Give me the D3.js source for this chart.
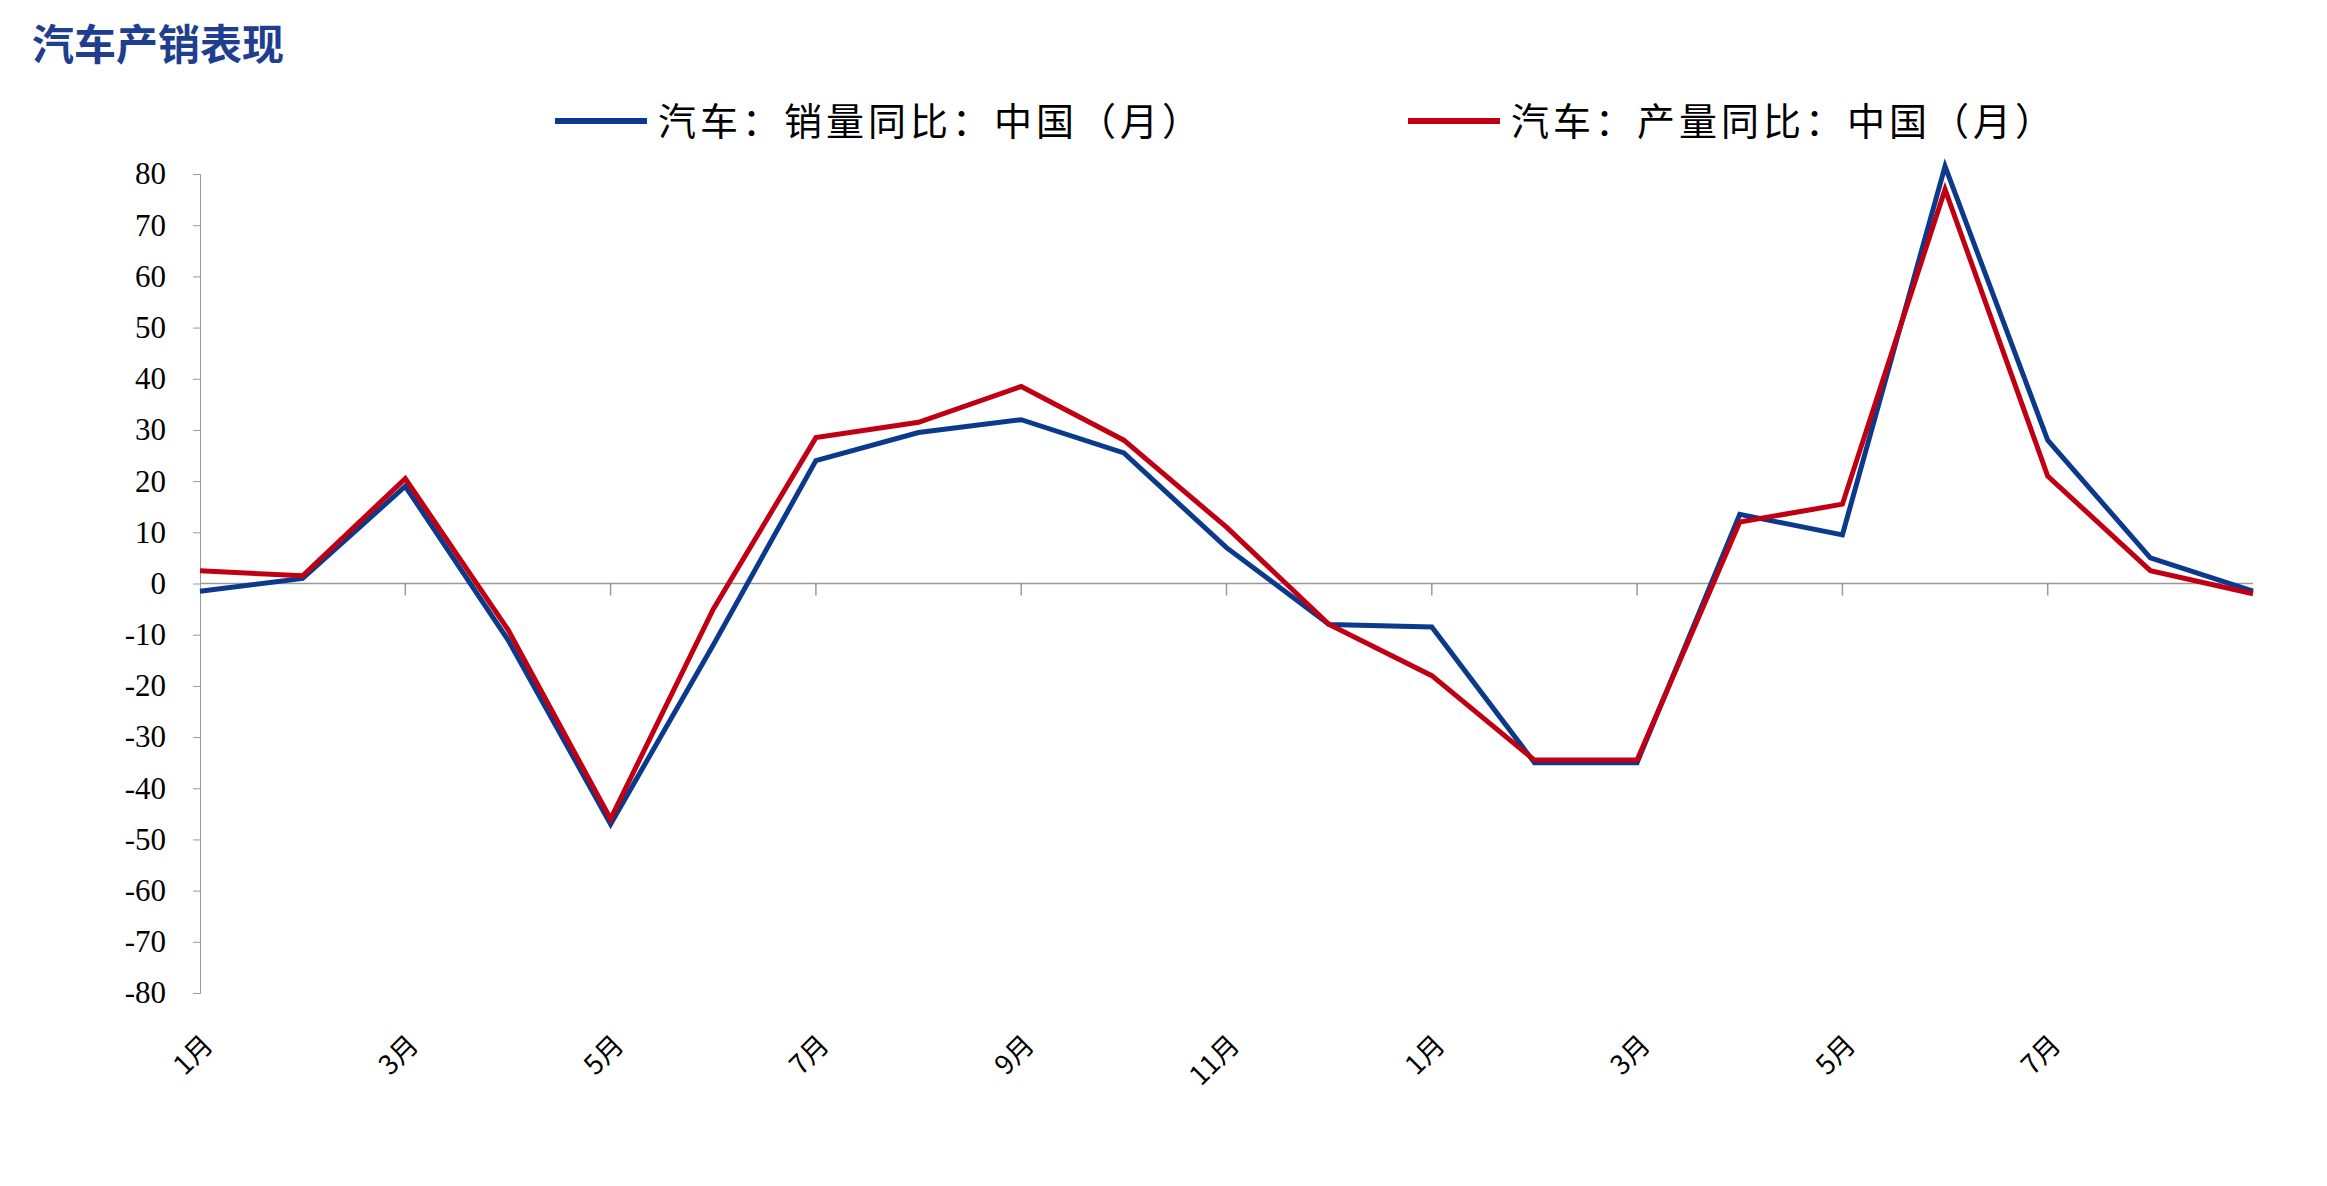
<!DOCTYPE html>
<head>
<meta charset="utf-8">
<title>汽车产销表现</title>
<style>
body { margin: 0; background: #fff; }
.ytick text { font-family: "Liberation Serif", serif; font-size: 31px; }
.xlab { font-family: "Noto Sans CJK SC", sans-serif; font-size: 27px; }
</style>
<script src="https://d3js.org/d3.v7.min.js"></script>
</head>
<body>
<script>
var months = ["1月","2月","3月","4月","5月","6月","7月","8月","9月","10月","11月","12月",
              "1月","2月","3月","4月","5月","6月","7月","8月","9月"];
var sales = [-1.5, 1, 19, -11, -47, -12, 24, 29.5, 32, 25.5, 7, -8, -8.5, -35, -35, 13.5, 9.5, 81.5, 28, 5, -1.5];
var production = [2.5, 1.5, 20.5, -9, -46, -5, 28.5, 31.5, 38.5, 28, 11, -8, -18, -34.5, -34.5, 12, 15.5, 77, 21, 2.5, -2];
var yTicks = d3.range(-80, 81, 10);

var W = 2327, H = 1186;
var svg = d3.select("body").append("svg").attr("width", W).attr("height", H);

var x = d3.scaleLinear().domain([0, months.length - 1]).range([200, 2253]);
var y = d3.scaleLinear().domain([-80, 80]).range([993, 174]);

svg.append("text").attr("x", 32).attr("y", 60)
    .attr("font-family", "Noto Sans CJK SC").attr("font-weight", "bold")
    .attr("font-size", 42).attr("fill", "#1f3e8f").text("汽车产销表现");

// y axis
var ya = svg.append("g").attr("transform", "translate(200,0)")
    .call(d3.axisLeft(y).tickValues(yTicks).tickSize(7).tickFormat(d => String(d)));
ya.attr("class", "ytick");
ya.selectAll("path, line").attr("stroke", "#999");
ya.selectAll("text").attr("fill", "#000").attr("x", -34);

// zero axis with ticks at odd months
var xa = svg.append("g").attr("transform", "translate(0," + y(0) + ")");
xa.append("line").attr("x1", 200).attr("x2", 2253).attr("stroke", "#999").attr("stroke-width", 1.5);
xa.selectAll("line.t").data(d3.range(2, 19, 2)).join("line")
    .attr("x1", d => x(d)).attr("x2", d => x(d)).attr("y1", 0).attr("y2", 12)
    .attr("stroke", "#999").attr("stroke-width", 1.5);

// x labels
svg.selectAll("text.xlab").data(d3.range(0, 19, 2)).join("text")
    .attr("class", "xlab")
    .attr("transform", d => "translate(" + (x(d) + 8) + ",1040) rotate(-45)")
    .attr("text-anchor", "end").attr("dy", "0.35em").text(d => months[d]);

var line = d3.line().x((d, i) => x(i)).y(d => y(d));
svg.append("path").datum(sales).attr("d", line).attr("fill", "none")
    .attr("stroke", "#0b3a8c").attr("stroke-width", 5);
svg.append("path").datum(production).attr("d", line).attr("fill", "none")
    .attr("stroke", "#c00012").attr("stroke-width", 5);

// legend
var legend = [
  { name: "汽车：销量同比：中国（月）", color: "#0b3a8c", x: 555 },
  { name: "汽车：产量同比：中国（月）", color: "#c00012", x: 1408 }
];
legend.forEach(function (l) {
  svg.append("line").attr("x1", l.x).attr("x2", l.x + 92).attr("y1", 121).attr("y2", 121)
      .attr("stroke", l.color).attr("stroke-width", 6);
  svg.append("text").attr("x", l.x + 103).attr("y", 121).attr("dy", "0.36em")
      .attr("font-family", "Noto Sans CJK SC").attr("font-size", 38)
      .attr("letter-spacing", 4).text(l.name);
});
</script>
</body>
